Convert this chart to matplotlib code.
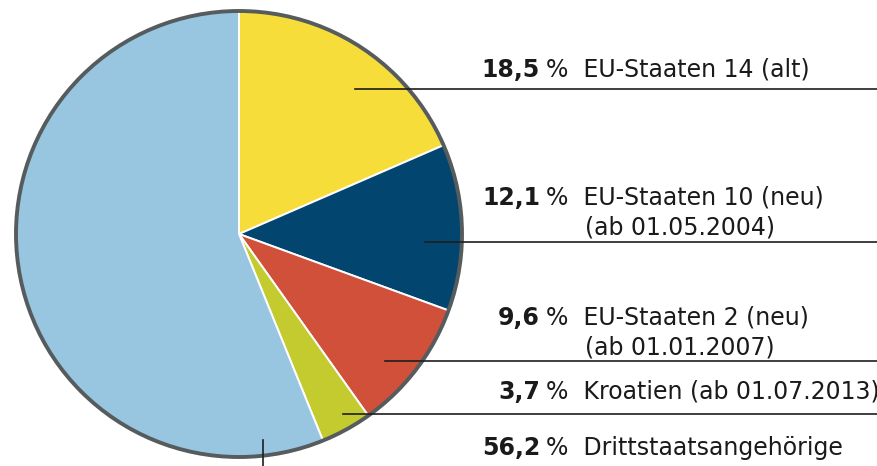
import matplotlib
matplotlib.use('Agg')
import matplotlib.pyplot as plt
from matplotlib.patches import Circle

# shares in percent, clockwise from 12 o'clock
shares = [18.5, 12.1, 9.6, 3.7, 56.2]
numbers = ['18,5', '12,1', '9,6', '3,7', '56,2']
labels = ['EU-Staaten 14 (alt)', 'EU-Staaten 10 (neu)', 'EU-Staaten 2 (neu)',
          'Kroatien (ab 01.07.2013)', 'Drittstaatsangehörige']
sublabels = ['', '(ab 01.05.2004)', '(ab 01.01.2007)', '', '']
colors = ['#f7dd3a', '#02466f', '#d0503a', '#c3cb2f', '#98c6e1']

W, H = 878, 466
fig = plt.figure(figsize=(W / 100, H / 100), dpi=100)
ax = fig.add_axes([0, 0, 1, 1])

cx, cy, r = 239, H - 234, 223
ax.pie(shares, colors=colors, startangle=90, counterclock=False,
       center=(cx, cy), radius=r,
       wedgeprops=dict(edgecolor='white', linewidth=1.4))
ax.add_patch(Circle((cx, cy), r, fill=False, edgecolor='#565b5e', lw=2.8))

ax.set_xlim(0, W)
ax.set_ylim(0, H)
ax.set_aspect('equal')
ax.axis('off')

# leader lines (pixel positions, y from top)
lines = [(355, 89), (425, 242), (385, 361), (343, 414)]
for x0, y0 in lines:
    ax.plot([x0, W], [H - y0, H - y0], color='#1e1e1e', lw=1.2)
ax.plot([263, 263], [H - 440, 0], color='#1e1e1e', lw=1.2)

font = ['DejaVu Sans']
fs = 17
base = [77, 205, 325, 399, 455]
for num, lab, sub, y in zip(numbers, labels, sublabels, base):
    ax.text(540, H - y, num, ha='right', va='baseline', fontsize=fs,
            fontweight='bold', family=font, color='#1a1a1a')
    ax.text(546, H - y, '%  ' + lab, ha='left', va='baseline', fontsize=fs,
            family=font, color='#1a1a1a')
    if sub:
        ax.text(585, H - y - 30, sub, ha='left', va='baseline', fontsize=fs,
                family=font, color='#1a1a1a')

fig.savefig('out.png', dpi=100)
